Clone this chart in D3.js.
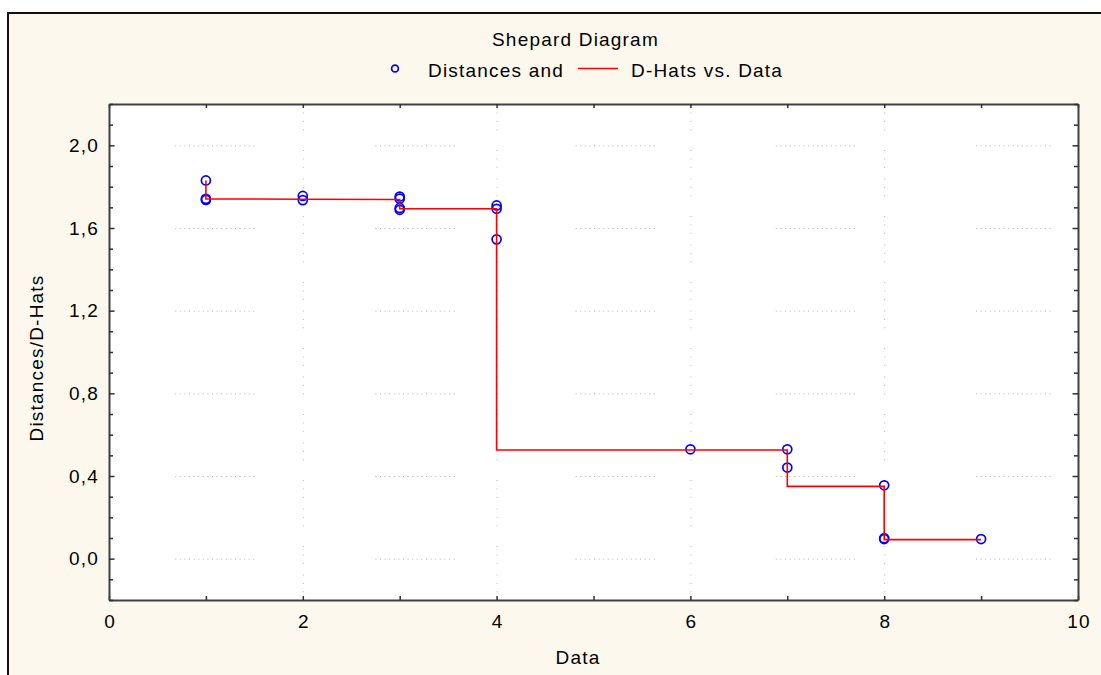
<!DOCTYPE html>
<meta charset="utf-8">
<script src="https://d3js.org/d3.v7.min.js"></script>
<style>
  body { margin: 0; background: #fff; }
  text { font-family: "Liberation Sans", Arial, sans-serif; font-size: 19px; letter-spacing: 1.2px; fill: #000; }
</style>
<svg id="chart" width="1101" height="675"></svg>
<script>

// data
const dataX     = [1, 1, 1, 2, 2, 3, 3, 3, 3, 4, 4, 4, 6, 7, 7, 8, 8, 8, 9];
const distances = [1.830, 1.741, 1.736, 1.755, 1.735, 1.752, 1.742, 1.697, 1.688,
                   1.709, 1.693, 1.545, 0.529, 0.529, 0.441, 0.355, 0.099, 0.095, 0.095];
const dHats     = [1.830, 1.741, 1.741, 1.739, 1.739, 1.738, 1.738, 1.693, 1.693,
                   1.693, 1.693, 0.526, 0.526, 0.526, 0.350, 0.350, 0.092, 0.092, 0.092];

const xTicks = [0, 2, 4, 6, 8, 10];
const xTickLabels = ["0", "2", "4", "6", "8", "10"];
const yTicks = [0, 0.4, 0.8, 1.2, 1.6, 2.0];
const yTickLabels = ["0,0", "0,4", "0,8", "1,2", "1,6", "2,0"];

const svg = d3.select("#chart");

// outer panel
svg.append("rect")
  .attr("x", 8).attr("y", 13)
  .attr("width", 1200).attr("height", 800)
  .attr("fill", "#fcf8ee")
  .attr("stroke", "#111").attr("stroke-width", 2);

const x = d3.scaleLinear().domain([0, 10]).range([109, 1078]);
const y = d3.scaleLinear().domain([-0.2, 2.2]).range([600, 104]);

// plot background
svg.append("rect")
  .attr("x", x(0)).attr("y", y(2.2))
  .attr("width", x(10) - x(0)).attr("height", y(-0.2) - y(2.2))
  .attr("fill", "#fff");

// dotted grid (broken look like the original)
const hDash = d3.range(17).map(() => "1,3.6").join(",") + ",1,121";
svg.append("g")
  .selectAll("line")
  .data(yTicks)
  .join("line")
    .attr("x1", x(0)).attr("x2", x(10) - 25)
    .attr("y1", d => y(d) + 0.5).attr("y2", d => y(d) + 0.5)
    .attr("stroke", "#b8b8b8")
    .attr("stroke-dasharray", hDash)
    .attr("stroke-dashoffset", 134);

const vDash = "1,7.4,1,7.4,1,10.7,1,7.4,1,7.4,1,19.7";
svg.append("g")
  .selectAll("line")
  .data(xTicks.slice(1, -1))
  .join("line")
    .attr("x1", d => x(d) + 0.5).attr("x2", d => x(d) + 0.5)
    .attr("y1", y(2.2)).attr("y2", y(-0.2))
    .attr("stroke", "#b8b8b8")
    .attr("stroke-dasharray", vDash)
    .attr("stroke-dashoffset", 20);

// axes
const xAll = d3.range(0, 11, 1);
const yAll = d3.range(-2, 23, 1).map(d => +(d / 10).toFixed(1));
const isMajorY = d => yTicks.some(t => Math.abs(t - d) < 1e-6);

function styleAxis(g) {
  g.select(".domain").attr("stroke", "#404040").attr("stroke-width", 2);
  g.selectAll(".tick line").attr("stroke", "#303030").attr("stroke-width", 1.5);
}

svg.append("g")
  .attr("transform", `translate(0,${y(-0.2)})`)
  .call(d3.axisBottom(x).tickValues(xAll).tickSize(-4).tickSizeOuter(0).tickPadding(15)
    .tickFormat(d => { const i = xTicks.indexOf(d); return i < 0 ? "" : xTickLabels[i]; }))
  .call(styleAxis)
  .call(g => g.selectAll("text").attr("dx", "0.6px"));

svg.append("g")
  .attr("transform", `translate(0,${y(2.2)})`)
  .call(d3.axisTop(x).tickValues(xAll).tickSize(-4).tickSizeOuter(0).tickFormat(""))
  .call(styleAxis);

svg.append("g")
  .attr("transform", `translate(${x(0)},0)`)
  .call(d3.axisLeft(y).tickValues(yAll).tickSize(-4).tickSizeOuter(0).tickPadding(10)
    .tickFormat(d => { const i = yTicks.findIndex(t => Math.abs(t - d) < 1e-6); return i < 0 ? "" : yTickLabels[i]; }))
  .call(styleAxis)
  .call(g => g.selectAll(".tick line").filter(isMajorY).attr("x2", 5.5));

svg.append("g")
  .attr("transform", `translate(${x(10)},0)`)
  .call(d3.axisRight(y).tickValues(yAll).tickSize(-4).tickSizeOuter(0).tickFormat(""))
  .call(styleAxis)
  .call(g => g.selectAll(".tick line").filter(isMajorY).attr("x2", -5.5));

svg.selectAll(".tick text")
  .style("font-family", "\"Liberation Sans\", Arial, sans-serif")
  .style("font-size", "19px")
  .attr("fill", "#000");

// distances (circles)
const pts = dataX.map((d, i) => ({ x: d, dist: distances[i], dhat: dHats[i] }));

svg.append("g")
  .selectAll("circle")
  .data(pts)
  .join("circle")
    .attr("cx", d => x(d.x))
    .attr("cy", d => y(d.dist))
    .attr("r", 4.5)
    .attr("fill", "none")
    .attr("stroke", "#0000ff")
    .attr("stroke-width", 1.7);

// D-hats step line
svg.append("path")
  .datum(pts)
  .attr("fill", "none")
  .attr("stroke", "#ff0000")
  .attr("stroke-width", 1.6)
  .attr("d", d3.line().x(d => x(d.x)).y(d => y(d.dhat)));

// title and legend
svg.append("text").attr("x", 492).attr("y", 46).text("Shepard Diagram");

svg.append("circle")
  .attr("cx", 395).attr("cy", 68.5).attr("r", 3.4)
  .attr("fill", "none").attr("stroke", "#0000ff").attr("stroke-width", 1.7);
svg.append("text").attr("x", 428).attr("y", 77).text("Distances and");
svg.append("line")
  .attr("x1", 578).attr("x2", 618).attr("y1", 68.5).attr("y2", 68.5)
  .attr("stroke", "#ff0000").attr("stroke-width", 1.5);
svg.append("text").attr("x", 631).attr("y", 77).text("D-Hats vs. Data");

// axis titles
svg.append("text")
  .attr("x", 578).attr("y", 664)
  .attr("text-anchor", "middle")
  .text("Data");

svg.append("text")
  .attr("transform", "translate(42.5,358) rotate(-90)")
  .attr("text-anchor", "middle")
  .text("Distances/D-Hats");

</script>
